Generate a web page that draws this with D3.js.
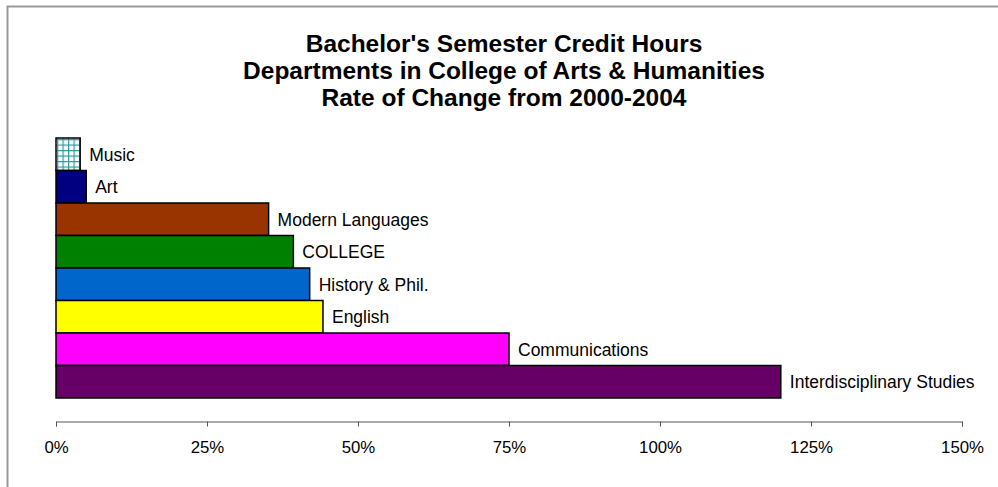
<!DOCTYPE html>
<html><head><meta charset="utf-8">
<script src="https://cdn.jsdelivr.net/npm/d3@7"></script>
<style>body{margin:0;background:#fff}svg{display:block}</style>
</head><body>
<script>
const categories = ["Music","Art","Modern Languages","COLLEGE","History & Phil.","English","Communications","Interdisciplinary Studies"];
const values = [4, 5, 35.2, 39.3, 42, 44.2, 75, 120];
const colors = ["url(#grid)","#000080","#993300","#008000","#0066CC","#FFFF00","#FF00FF","#660066"];
const tickValues = [0,25,50,75,100,125,150];
const titleLines = ["Bachelor's Semester Credit Hours","Departments in College of Arts & Humanities","Rate of Change from 2000-2004"];

const W=998,H=487;
const FONT="Liberation Sans, Arial, sans-serif";
const svg=d3.select("body").append("svg").attr("width",W).attr("height",H);
const defs=svg.append("defs");
const pat=defs.append("pattern").attr("id","grid").attr("patternUnits","userSpaceOnUse").attr("width",5.5).attr("height",5.5).attr("x",57).attr("y",139);
pat.append("rect").attr("width",5.5).attr("height",5.5).attr("fill","#fff");
pat.append("rect").attr("width",5.5).attr("height",1.2).attr("fill","#2f9a9a");
pat.append("rect").attr("width",1.2).attr("height",5.5).attr("fill","#2f9a9a");

svg.append("path").attr("d","M7.5,1000 L7.5,6.5 L1000,6.5").attr("fill","none").attr("stroke","#999").attr("stroke-width",2);

const x=d3.scaleLinear().domain([0,150]).range([56,962]);
const y=d3.scaleBand().domain(categories).range([138,398]).padding(0);

svg.selectAll("text.t").data(titleLines).enter().append("text")
 .attr("x",504).attr("y",(d,i)=>52+i*27).attr("text-anchor","middle")
 .attr("font-family",FONT).attr("font-weight","bold").attr("font-size",24.5).text(d=>d);

svg.selectAll("rect.bar").data(categories).enter().append("rect")
 .attr("x",x(0)).attr("y",d=>y(d)).attr("width",(d,i)=>x(values[i])-x(0)).attr("height",y.bandwidth())
 .attr("fill",(d,i)=>colors[i]).attr("stroke","#000").attr("stroke-width",1.5);

svg.selectAll("text.lab").data(categories).enter().append("text")
 .attr("x",(d,i)=>x(values[i])+9).attr("y",d=>y(d)+y.bandwidth()/2).attr("dy","0.36em")
 .attr("font-family",FONT).attr("font-size",17.5).text(d=>d);

const ax=svg.append("g").attr("transform","translate(0,421.5)")
 .call(d3.axisBottom(x).tickValues(tickValues).tickSize(5).tickPadding(15).tickFormat(d=>d+"%"));
ax.select(".domain").attr("stroke","#555");
ax.selectAll(".tick line").attr("stroke","#555");
ax.selectAll("text").attr("font-family",FONT).attr("font-size",16.8).attr("fill","#000");
</script>
</body></html>
